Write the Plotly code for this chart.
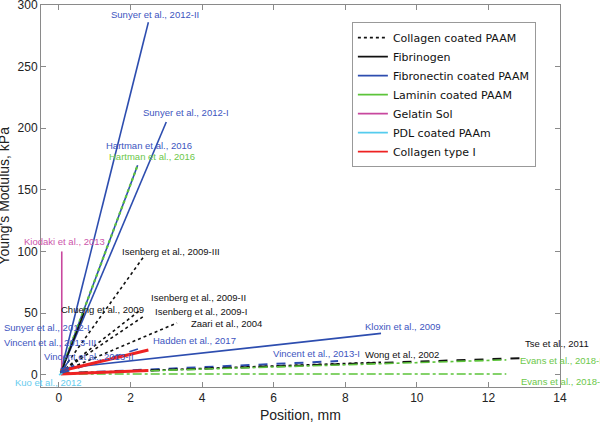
import plotly.graph_objects as go

# ---------------- data ----------------
study = [
    "Sunyer et al., 2012-II", "Sunyer et al., 2012-I", "Hartman et al., 2016 (FN)",
    "Hartman et al., 2016 (LN)", "Kiodaki et al., 2013", "Isenberg et al., 2009-III",
    "Isenberg et al., 2009-II", "Isenberg et al., 2009-I", "Zaari et al., 2004",
    "Chueng et al., 2009", "Kloxin et al., 2009", "Hadden et al., 2017",
    "Vincent et al., 2013-I", "Wong et al., 2002", "Tse et al., 2011",
    "Evans et al., 2018-II", "Evans et al., 2018-I", "Collagen I gradient A",
    "Collagen I gradient B", "Vincent et al., 2013-III", "Vincent et al., 2013-II",
    "Sunyer et al., 2012-I (short)", "Kuo et al., 2012",
]
category = [
    "Fibronectin coated PAAM", "Fibronectin coated PAAM", "Fibronectin coated PAAM",
    "Laminin coated PAAM", "Gelatin Sol", "Collagen coated PAAM",
    "Collagen coated PAAM", "Collagen coated PAAM", "Collagen coated PAAM",
    "Fibrinogen", "Fibronectin coated PAAM", "Fibronectin coated PAAM",
    "Fibronectin coated PAAM", "Collagen coated PAAM", "Fibrinogen",
    "Laminin coated PAAM", "Laminin coated PAAM", "Collagen type I",
    "Collagen type I", "Fibronectin coated PAAM", "Fibronectin coated PAAM",
    "Fibronectin coated PAAM", "PDL coated PAAm",
]
position_start = [0.05, 0.05, 0.05, 0.05, 0.08, 0.05, 0.05, 0.05, 0.05, 0.1, 0.05, 0.05,
                  0.05, 0.05, 0.05, 0.05, 0.05, 0.05, 0.05, 0.05, 0.05, 0.05, 0.0]
position_end = [2.5, 3.0, 2.2, 2.2, 0.08, 2.4, 2.3, 2.4, 3.3, 0.7, 9.0, 2.4,
                7.8, 9.0, 13.0, 12.5, 12.5, 2.5, 2.5, 0.45, 0.5, 0.3, 0.1]
modulus_start = [2, 2, 2, 2, 0, 2, 2, 2, 2, 5, 5, 1,
                 1, 1, 1, 1, 0.5, 3, 0.5, 2, 1, 2, 0]
modulus_end = [286, 205, 170, 170, 100, 97, 53, 48, 42, 50, 33.5, 22.5,
               11, 10, 13.5, 12, 0.5, 20, 3.3, 8, 6, 12, 1]

label_text = [
    "Sunyer et al., 2012-II", "Sunyer et al., 2012-I", "Hartman et al., 2016",
    "Hartman et al., 2016", "Kiodaki et al., 2013", "Isenberg et al., 2009-III",
    "Isenberg et al., 2009-II", "Isenberg et al., 2009-I", "Zaari et al., 2004",
    "Chueng et al., 2009", "Kloxin et al., 2009", "Hadden et al., 2017",
    "Vincent et al., 2013-I", "Wong et al., 2002", "Tse et al., 2011",
    "Evans et al., 2018-II", "Evans et al., 2018-I", "",
    "", "Vincent et al., 2013-III", "Vincent et al., 2013-II",
    "Sunyer et al., 2012-I", "Kuo et al., 2012",
]
label_position = [1.41, 2.30, 1.27, 1.33, -1.03, 1.72, 2.53, 2.62, 3.63, 0.01, 8.51, 2.56,
                  5.93, 8.50, 12.97, 12.84, 12.86, 0, 0, -1.59, -0.47, -1.59, -1.27]
label_modulus = [292.7, 212.4, 186, 177, 108.4, 100, 62.6, 51.2, 41.5, 52.8, 39, 27.6,
                 17.3, 16.3, 25.2, 11.4, -5.7, 0, 0, 26.3, 14.9, 38.5, -6.5]

legend_order = ["Collagen coated PAAM", "Fibrinogen", "Fibronectin coated PAAM",
                "Laminin coated PAAM", "Gelatin Sol", "PDL coated PAAm", "Collagen type I"]

x_ticks = [0, 2, 4, 6, 8, 10, 12, 14]
y_ticks = [0, 50, 100, 150, 200, 250, 300]

# ---------------- styles ----------------
line_color = {
    "Collagen coated PAAM": "#111111",
    "Fibrinogen": "#111111",
    "Fibronectin coated PAAM": "#2D4DAF",
    "Laminin coated PAAM": "#5CC43A",
    "Gelatin Sol": "#C8479E",
    "PDL coated PAAm": "#55CCEE",
    "Collagen type I": "#EE2222",
}
label_color = {
    "Collagen coated PAAM": "#111111",
    "Fibrinogen": "#111111",
    "Fibronectin coated PAAM": "#3D55C0",
    "Laminin coated PAAM": "#6CC84A",
    "Gelatin Sol": "#CC55AA",
    "PDL coated PAAm": "#66CCEE",
    "Collagen type I": "#EE2222",
}
legend_dash = {"Collagen coated PAAM": "dot"}
line_dash = ["solid", "solid", "solid", "dot", "solid", "dot", "dot", "dot", "dot",
             "solid", "solid", "dash", "dash", "dot", "dash", "dashdot", "dashdot",
             "solid", "solid", "dashdot", "dash", "solid", "solid"]
line_width = [1.6, 1.6, 1.6, 2.2, 1.6, 1.6, 1.6, 1.6, 1.6, 1.6, 1.6, 1.6,
              2.0, 1.8, 2.0, 1.6, 1.6, 3.0, 3.0, 1.6, 1.6, 1.6, 1.6]

x_range = [-0.5, 14]
y_range = [-10, 300]

fig = go.Figure()

for i, name in enumerate(study):
    cat = category[i]
    fig.add_trace(go.Scatter(
        x=[position_start[i], position_end[i]],
        y=[modulus_start[i], modulus_end[i]],
        mode="lines", name=name, showlegend=False,
        line=dict(color=line_color[cat], width=line_width[i], dash=line_dash[i]),
    ))

# legend entries
for cat in legend_order:
    fig.add_trace(go.Scatter(
        x=[None], y=[None], mode="lines", name=cat, showlegend=True,
        line=dict(color=line_color[cat], width=1.8, dash=legend_dash.get(cat, "solid")),
    ))


def to_paper_x(v):
    return (v - x_range[0]) / (x_range[1] - x_range[0])


for i, txt in enumerate(label_text):
    if not txt:
        continue
    fig.add_annotation(
        x=to_paper_x(label_position[i]), xref="paper",
        y=label_modulus[i], yref="y",
        text=txt, showarrow=False, xanchor="left", yanchor="middle",
        font=dict(family="Liberation Sans, Arial, sans-serif", size=9.5,
                  color=label_color[category[i]]),
    )

# axis titles as annotations
fig.add_annotation(x=0.5, y=-0.073, xref="paper", yref="paper", text="Position, mm",
                   showarrow=False, xanchor="center", yanchor="middle",
                   font=dict(family="Liberation Sans, Arial, sans-serif", size=14, color="#222"))
fig.add_annotation(x=-0.072, y=0.5, xref="paper", yref="paper", text="Young's Modulus, kPa",
                   showarrow=False, textangle=-90, xanchor="center", yanchor="middle",
                   font=dict(family="Liberation Sans, Arial, sans-serif", size=14, color="#222"))

axis_common = dict(
    showgrid=False, zeroline=False, showline=True, linecolor="#8a8a8a", linewidth=1,
    mirror="ticks", ticks="inside", ticklen=5, tickcolor="#8a8a8a", automargin=False,
    ticklabeloverflow="allow",
    tickfont=dict(family="Liberation Sans, Arial, sans-serif", size=12, color="#222"),
)
fig.update_xaxes(range=x_range, tickvals=x_ticks, **axis_common)
fig.update_yaxes(range=y_range, tickvals=y_ticks, **axis_common)

fig.update_layout(
    template="none",
    width=600, height=423, autosize=False,
    margin=dict(l=41, r=40, t=5, b=36, pad=0),
    paper_bgcolor="white", plot_bgcolor="white",
    legend=dict(
        x=0.599, y=0.955, xanchor="left", yanchor="top",
        bgcolor="white", bordercolor="#999999", borderwidth=1,
        font=dict(family="DejaVu Sans", size=11, color="#111"),
    ),
)

fig.write_html("out.html", config={"displayModeBar": False},
               post_script="document.body.style.margin='0px';document.body.style.overflow='hidden';")
